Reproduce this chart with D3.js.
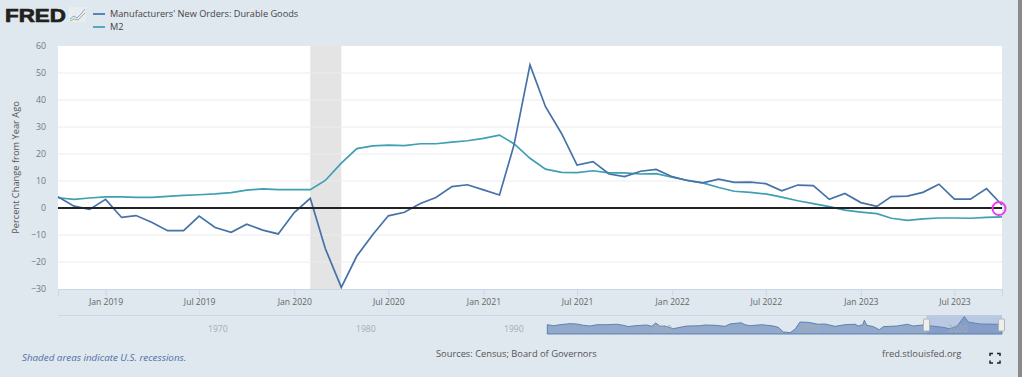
<!DOCTYPE html>
<html>
<head>
<meta charset="utf-8">
<script src="https://cdn.jsdelivr.net/npm/d3@7"></script>
<style>
  html, body { margin: 0; padding: 0; background: #dfe7ef; overflow: hidden; }
  text { font-family: "Open Sans", sans-serif; }
</style>
</head>
<body>
<script>
// monthly, Oct 2018 - Oct 2023
var startMonth = [2018, 9];
var durableGoods = [4.2, 0.7, -0.5, 3.2, -3.5, -2.8, -5.4, -8.4, -8.4, -3, -7.2, -9, -6, -8.2, -9.6, -1.7, 3.6, -15, -29.4, -17.8, -9.8, -2.9, -1.6, 1.7, 3.9, 7.9, 8.6, 6.7, 4.8, 23.3, 53, 37.5, 27.6, 15.9, 17.2, 12.6, 11.6, 13.6, 14.3, 11.6, 10.1, 9.3, 10.7, 9.5, 9.6, 9, 6.4, 8.5, 8.3, 3.2, 5.4, 2, 0.6, 4.2, 4.4, 5.8, 8.8, 3.3, 3.3, 7.2, 1.1];
var m2 = [3.8, 3.2, 3.7, 4.1, 4.1, 3.9, 3.9, 4.3, 4.7, 4.9, 5.2, 5.7, 6.6, 7.1, 6.8, 6.8, 6.8, 10.2, 16.6, 22, 23, 23.3, 23.1, 23.8, 23.8, 24.4, 24.9, 25.8, 27, 23.8, 18.4, 14.4, 13.2, 13.1, 13.8, 13, 13, 12.6, 12.7, 11.4, 10.2, 9.3, 7.6, 6.2, 5.8, 5.2, 4, 2.7, 1.6, 0.5, -0.8, -1.5, -2.1, -3.8, -4.6, -4, -3.7, -3.7, -3.8, -3.5, -3.3];
var yTicks = [-30, -20, -10, 0, 10, 20, 30, 40, 50, 60];
var recession = [new Date(2020, 1, 1), new Date(2020, 3, 1)];
var seriesNames = ["Manufacturers' New Orders: Durable Goods", "M2"];
var navYears = [1970, 1980, 1990, 2000, 2010, 2020];
// navigator overview of the orders series, read roughly off the strip
var navYr = [1993.13, 1993.54, 1993.99, 1994.66, 1995.11, 1995.56, 1996.01, 1996.46, 1997.14, 1997.82, 1998.26, 1998.6, 1999.05, 1999.84, 2000.18, 2000.45, 2000.74, 2001.2, 2001.64, 2002.09, 2002.55, 2003.45, 2003.78, 2004.46, 2005.14, 2005.47, 2006.22, 2006.49, 2006.82, 2007.61, 2008.4, 2008.74, 2009.07, 2009.53, 2009.86, 2010.2, 2010.76, 2011.44, 2011.89, 2012.57, 2013.24, 2013.92, 2014.14, 2014.44, 2014.55, 2014.71, 2015.16, 2015.56, 2015.84, 2016.74, 2017.46, 2017.86, 2018.65, 2019.1, 2019.89, 2020.29, 2020.79, 2021.3, 2021.57, 2022.36, 2023.58, 2023.85];
var navVal = [-2, -9, -2, 5, 3, -6, -11, -2, -2, 1, -6, -15, -9, -4, -13, 9, -11, -15, -29, -20, -11, -9, -4, -6, -13, 3, 11, -2, -9, -2, -11, -20, -51, -56, -33, 16, 14, 1, 3, -13, -2, 1, -11, -2, 28, -6, -15, -36, -15, -11, 1, -11, -2, -11, -20, -29, -15, 53, 16, 3, 1, 1];

var width = 1022, height = 377;
var plot = {left: 58, right: 1002, top: 46, bottom: 289};
var parse = function(i) { return new Date(startMonth[0], startMonth[1] + i, 1); };

var svg = d3.select("body").append("svg")
    .attr("width", width)
    .attr("height", height);

var x = d3.scaleTime()
    .domain([parse(0), parse(durableGoods.length - 1)])
    .range([plot.left, plot.right]);
var y = d3.scaleLinear()
    .domain([-30, 60])
    .range([plot.bottom, plot.top]);

svg.append("rect")
    .attr("x", plot.left).attr("y", plot.top)
    .attr("width", plot.right - plot.left).attr("height", plot.bottom - plot.top)
    .attr("fill", "#fff");

// recession band
svg.append("rect")
    .attr("x", x(recession[0])).attr("y", plot.top)
    .attr("width", x(recession[1]) - x(recession[0])).attr("height", plot.bottom - plot.top)
    .attr("fill", "#e4e4e4");

// y axis and grid
var yAxis = svg.append("g")
    .attr("transform", "translate(" + plot.left + ",0)")
    .call(d3.axisLeft(y).tickValues(yTicks).tickSize(0).tickPadding(12));
yAxis.select(".domain").remove();
yAxis.selectAll("text").style("font-size", "8.8px").attr("fill", "#777");
svg.append("g").selectAll("line")
    .data(yTicks.filter(function(d) { return d > -30 && d < 60; }))
    .enter().append("line")
    .attr("x1", plot.left).attr("x2", plot.right)
    .attr("y1", function(d) { return y(d); }).attr("y2", function(d) { return y(d); })
    .attr("stroke", "#ececec");

svg.append("text")
    .attr("transform", "translate(19," + ((plot.top + plot.bottom) / 2) + ") rotate(-90)")
    .attr("text-anchor", "middle")
    .style("font-size", "9.3px")
    .attr("fill", "#555")
    .text("Percent Change from Year Ago");

// x axis
var xAxis = svg.append("g")
    .attr("transform", "translate(0," + plot.bottom + ")")
    .call(d3.axisBottom(x).ticks(d3.timeMonth.every(6)).tickFormat(d3.timeFormat("%b %Y")).tickSize(7).tickPadding(3));
xAxis.select(".domain").attr("stroke", "#ccd6eb");
xAxis.selectAll(".tick line").attr("stroke", "#ccd6eb");
xAxis.selectAll("text").style("font-size", "8.6px").attr("fill", "#666");

var line = function(vals) {
  return d3.line()
    .x(function(d, i) { return x(parse(i)); })
    .y(function(d) { return y(d); })(vals);
};

svg.append("path").attr("d", line(m2))
    .attr("fill", "none").attr("stroke", "#3f9fb3").attr("stroke-width", 1.7);
svg.append("path").attr("d", line(durableGoods))
    .attr("fill", "none").attr("stroke", "#4572a7").attr("stroke-width", 1.7);

// zero line
svg.append("line")
    .attr("x1", plot.left).attr("x2", plot.right)
    .attr("y1", y(0)).attr("y2", y(0))
    .attr("stroke", "#222").attr("stroke-width", 2);

// last point marker
svg.append("circle")
    .attr("cx", plot.right - 3).attr("cy", y(0) + 0.5)
    .attr("r", 6.5)
    .attr("fill", "none").attr("stroke", "#e93ee9").attr("stroke-width", 2);

// legend
var legend = svg.append("g").selectAll("g")
    .data(seriesNames)
    .enter().append("g")
    .attr("transform", function(d, i) { return "translate(93," + (14 + i * 13) + ")"; });
legend.append("line")
    .attr("x1", 0).attr("x2", 12)
    .attr("stroke", function(d, i) { return i ? "#3f9fb3" : "#4572a7"; })
    .attr("stroke-width", 1.7);
legend.append("text")
    .attr("x", 17).attr("y", 3.3)
    .style("font-size", "9.2px")
    .attr("fill", "#444")
    .text(function(d) { return d; });

// logo
svg.append("text")
    .attr("x", 5).attr("y", 21.7)
    .style("font-family", "'Liberation Sans', sans-serif")
    .style("font-size", "19px").style("font-weight", "bold")
    .attr("fill", "#231f20")
    .attr("stroke", "#231f20").attr("stroke-width", 0.7)
    .attr("textLength", 61).attr("lengthAdjust", "spacingAndGlyphs")
    .text("FRED");
svg.append("rect")
    .attr("x", 69).attr("y", 7).attr("width", 17).attr("height", 15)
    .attr("fill", "#e9edf0");
svg.append("path")
    .attr("d", "M70 19l4-3 3 2 4-4 4-5")
    .attr("fill", "none").attr("stroke", "#7f9cc4").attr("stroke-width", 0.9);
svg.append("path")
    .attr("d", "M70 21l4-2 4 1 4-4 3-3")
    .attr("fill", "none").attr("stroke", "#93b27e").attr("stroke-width", 0.9);

// navigator
var nx = d3.scaleLinear().domain([1970, 2020]).range([205, 945]);
var ny = d3.scaleLinear().domain([-65, 60]).range([334, 315.5]);
svg.append("line")
    .attr("x1", plot.left).attr("x2", plot.right)
    .attr("y1", 315.5).attr("y2", 315.5)
    .attr("stroke", "#ccd6eb");
svg.append("path")
    .attr("d", d3.area()
      .x(function(d, i) { return nx(navYr[i]); })
      .y0(ny(-65))
      .y1(function(d) { return ny(d); })(navVal))
    .attr("fill", "#92a9cb").attr("stroke", "#4572a7").attr("stroke-width", 0.8);
svg.append("rect")
    .attr("x", nx(2018.75)).attr("y", 315.5)
    .attr("width", plot.right - nx(2018.75)).attr("height", 19)
    .attr("fill", "#6685c2").attr("fill-opacity", 0.3);
svg.append("g").selectAll("text")
    .data(navYears)
    .enter().append("text")
    .attr("x", function(d) { return nx(d) + 3; })
    .attr("y", 332)
    .style("font-size", "8.6px")
    .attr("fill", "#a6adb5")
    .text(function(d) { return d; });
[nx(2018.75), plot.right - 0.5].forEach(function(hx) {
  svg.append("rect")
    .attr("x", hx - 3).attr("y", 319).attr("width", 6).attr("height", 12)
    .attr("rx", 1)
    .attr("fill", "#eeeeee").attr("stroke", "#b4b4b4");
});

// footer
svg.append("text")
    .attr("x", 22).attr("y", 360.5)
    .style("font-size", "9.8px").style("font-style", "italic")
    .attr("fill", "#4d6fa3")
    .text("Shaded areas indicate U.S. recessions.");
svg.append("text")
    .attr("x", 436).attr("y", 356.5)
    .style("font-size", "9.3px")
    .attr("fill", "#555")
    .text("Sources: Census; Board of Governors");
svg.append("text")
    .attr("x", 882).attr("y", 356.5)
    .style("font-size", "9.3px")
    .attr("fill", "#555")
    .text("fred.stlouisfed.org");

// fullscreen icon
svg.append("path")
    .attr("d", "M990 356v-2.5h3M997 353.5h3v2.5M1000 360.5v2.5h-3M993 363h-3v-2.5")
    .attr("fill", "none").attr("stroke", "#222").attr("stroke-width", 1.5);

// right scrollbar edge
svg.append("rect")
    .attr("x", 1018).attr("y", 0).attr("width", 4).attr("height", height)
    .attr("fill", "#8a8a8a");
</script>
</body>
</html>
